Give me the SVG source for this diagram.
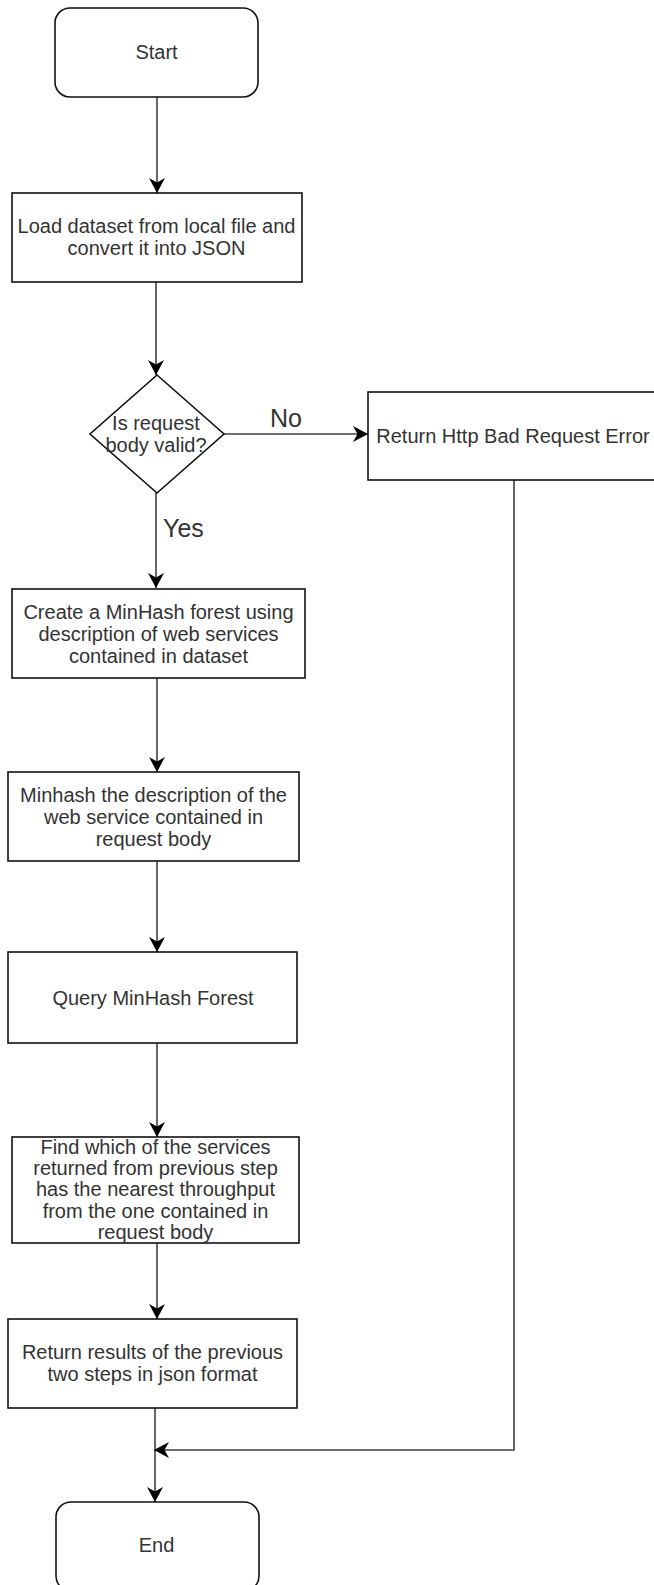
<svg xmlns="http://www.w3.org/2000/svg" width="654" height="1585" viewBox="0 0 654 1585">
  <style>
    .box { fill: #ffffff; stroke: #111111; stroke-width: 1.6; }
    .lbl { font-family: "Liberation Sans", Arial, sans-serif; font-size: 20px; fill: #333333; text-anchor: middle; }
    .edge-lbl { font-family: "Liberation Sans", Arial, sans-serif; font-size: 25px; fill: #333333; }
    .conn { fill: none; stroke: #404040; stroke-width: 1.6; }
  </style>
  <defs>
    <marker id="arrow" viewBox="0 0 15 16" refX="15" refY="8" markerWidth="15" markerHeight="16" markerUnits="userSpaceOnUse" orient="auto">
      <path d="M0,0 L15,8 L0,16 L4.5,8 Z" fill="#000000"/>
    </marker>
  </defs>
  <rect x="0" y="0" width="654" height="1585" fill="#ffffff"/>

  <g id="connectors">
    <path class="conn" d="M157,97 L157,193" marker-end="url(#arrow)"/>
    <path class="conn" d="M156,282 L156,375" marker-end="url(#arrow)"/>
    <path class="conn" d="M224,434 L368,434" marker-end="url(#arrow)"/>
    <path class="conn" d="M156,493 L156,588" marker-end="url(#arrow)"/>
    <path class="conn" d="M157,678 L157,772" marker-end="url(#arrow)"/>
    <path class="conn" d="M157,861 L157,952" marker-end="url(#arrow)"/>
    <path class="conn" d="M157,1043 L157,1137" marker-end="url(#arrow)"/>
    <path class="conn" d="M157,1243 L157,1319" marker-end="url(#arrow)"/>
    <path class="conn" d="M155,1408 L155,1502" marker-end="url(#arrow)"/>
    <path class="conn" d="M514,480 L514,1450 L154,1450" marker-end="url(#arrow)"/>
    <text class="edge-lbl" x="270" y="427">No</text>
    <text class="edge-lbl" x="163" y="537">Yes</text>
  </g>

  <g id="start">
    <rect class="box" x="55" y="8" width="203" height="89" rx="15" ry="15"/>
    <text class="lbl" x="156.5" y="59">Start</text>
  </g>

  <g id="load">
    <rect class="box" x="12" y="193" width="290" height="89"/>
    <text class="lbl" x="156.5" y="233">Load dataset from local file and</text>
    <text class="lbl" x="156.5" y="255">convert it into JSON</text>
  </g>

  <g id="valid">
    <polygon class="box" points="157,375 224,434 157,493 90,434"/>
    <text class="lbl" x="156" y="430">Is request</text>
    <text class="lbl" x="156" y="452">body valid?</text>
  </g>

  <g id="badrequest">
    <rect class="box" x="368" y="392" width="290" height="88"/>
    <text class="lbl" x="513" y="443">Return Http Bad Request Error</text>
  </g>

  <g id="forest">
    <rect class="box" x="12" y="589" width="293" height="89"/>
    <text class="lbl" x="158.5" y="619">Create a MinHash forest using</text>
    <text class="lbl" x="158.5" y="641">description of web services</text>
    <text class="lbl" x="158.5" y="663">contained in dataset</text>
  </g>

  <g id="minhash">
    <rect class="box" x="8" y="772" width="291" height="89"/>
    <text class="lbl" x="153.5" y="802">Minhash the description of the</text>
    <text class="lbl" x="153.5" y="824">web service contained in</text>
    <text class="lbl" x="153.5" y="846">request body</text>
  </g>

  <g id="query">
    <rect class="box" x="8" y="952" width="289" height="91"/>
    <text class="lbl" x="153" y="1005">Query MinHash Forest</text>
  </g>

  <g id="find">
    <rect class="box" x="12" y="1137" width="287" height="106"/>
    <text class="lbl" x="155.5" y="1154">Find which of the services</text>
    <text class="lbl" x="155.5" y="1175">returned from previous step</text>
    <text class="lbl" x="155.5" y="1196">has the nearest throughput</text>
    <text class="lbl" x="155.5" y="1218">from the one contained in</text>
    <text class="lbl" x="155.5" y="1239">request body</text>
  </g>

  <g id="results">
    <rect class="box" x="8" y="1319" width="289" height="89"/>
    <text class="lbl" x="152.5" y="1359">Return results of the previous</text>
    <text class="lbl" x="152.5" y="1381">two steps in json format</text>
  </g>

  <g id="end">
    <rect class="box" x="56" y="1502" width="203" height="89" rx="15" ry="15"/>
    <text class="lbl" x="156.5" y="1552">End</text>
  </g>
</svg>
